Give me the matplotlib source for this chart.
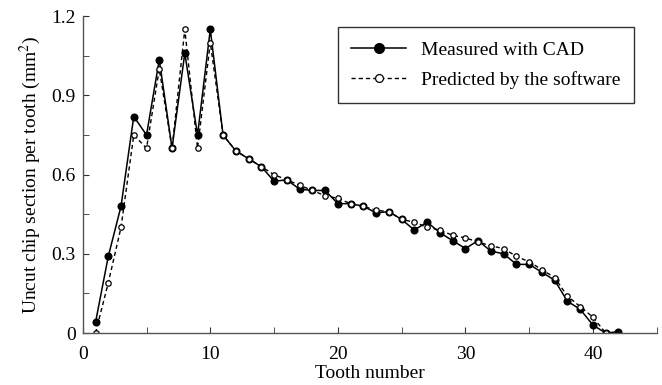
import matplotlib
matplotlib.use('Agg')
import matplotlib.pyplot as plt
from matplotlib.ticker import MultipleLocator

plt.rcParams['font.family'] = ['Liberation Serif', 'DejaVu Serif']
plt.rcParams['mathtext.fontset'] = 'stix'

# data
tooth_meas = list(range(1, 43))
measured = [0.04, 0.29, 0.48, 0.82, 0.75, 1.035, 0.70, 1.06, 0.75, 1.15,
            0.75, 0.69, 0.66, 0.63, 0.575, 0.58, 0.545, 0.54, 0.54, 0.49,
            0.49, 0.48, 0.455, 0.46, 0.43, 0.39, 0.42, 0.38, 0.35, 0.32,
            0.35, 0.31, 0.30, 0.26, 0.26, 0.23, 0.20, 0.12, 0.09, 0.03,
            0.0, 0.005]
tooth_pred = list(range(1, 42))
predicted = [0.0, 0.19, 0.40, 0.75, 0.70, 1.0, 0.70, 1.15, 0.70, 1.10,
             0.75, 0.69, 0.66, 0.63, 0.60, 0.58, 0.56, 0.54, 0.52, 0.51,
             0.49, 0.48, 0.465, 0.46, 0.43, 0.42, 0.40, 0.39, 0.37, 0.36,
             0.345, 0.33, 0.32, 0.29, 0.27, 0.24, 0.21, 0.14, 0.10, 0.06,
             0.0]

fig = plt.figure(figsize=(6.62, 3.85), dpi=100)
ax = fig.add_axes([0.125, 0.135, 0.867, 0.823])

ax.plot(tooth_meas, measured, '-', color='black', lw=1.1,
        marker='o', ms=4.8, mfc='black', mec='black', label='Measured with CAD')
ax.plot(tooth_pred, predicted, '--', color='black', lw=1.0, dashes=(3.0, 2.2),
        marker='o', ms=3.9, mfc='white', mec='black', mew=0.9,
        label='Predicted by the software')

ax.set_xlim(0, 45)
ax.set_ylim(0, 1.2)
ax.xaxis.set_major_locator(MultipleLocator(10))
ax.xaxis.set_minor_locator(MultipleLocator(5))
ax.yaxis.set_minor_locator(MultipleLocator(0.15))
ax.set_yticks([0, 0.3, 0.6, 0.9, 1.2])
ax.set_yticklabels(['0', '0.3', '0.6', '0.9', '1.2'])

for side in ['top', 'right']:
    ax.spines[side].set_visible(False)
for side in ['left', 'bottom']:
    ax.spines[side].set_color('#555555')
    ax.spines[side].set_linewidth(1.0)

ax.tick_params(which='both', direction='in', labelsize=14, color='#333333',
               length=4)
ax.tick_params(axis='x', which='major', pad=9)
ax.tick_params(axis='y', which='major', pad=5)

ax.set_xlabel('Tooth number', fontsize=14, labelpad=2)
ax.set_ylabel('Uncut chip section per tooth (mm$^2$)', fontsize=14, labelpad=6)

leg = ax.legend(loc='upper right', bbox_to_anchor=(0.978, 0.995), fontsize=14,
                frameon=True, fancybox=False, edgecolor='black',
                handlelength=2.8, markerscale=1.45, borderpad=0.7,
                labelspacing=0.65)
leg.get_frame().set_linewidth(1.0)

fig.savefig('out.png', dpi=100)
